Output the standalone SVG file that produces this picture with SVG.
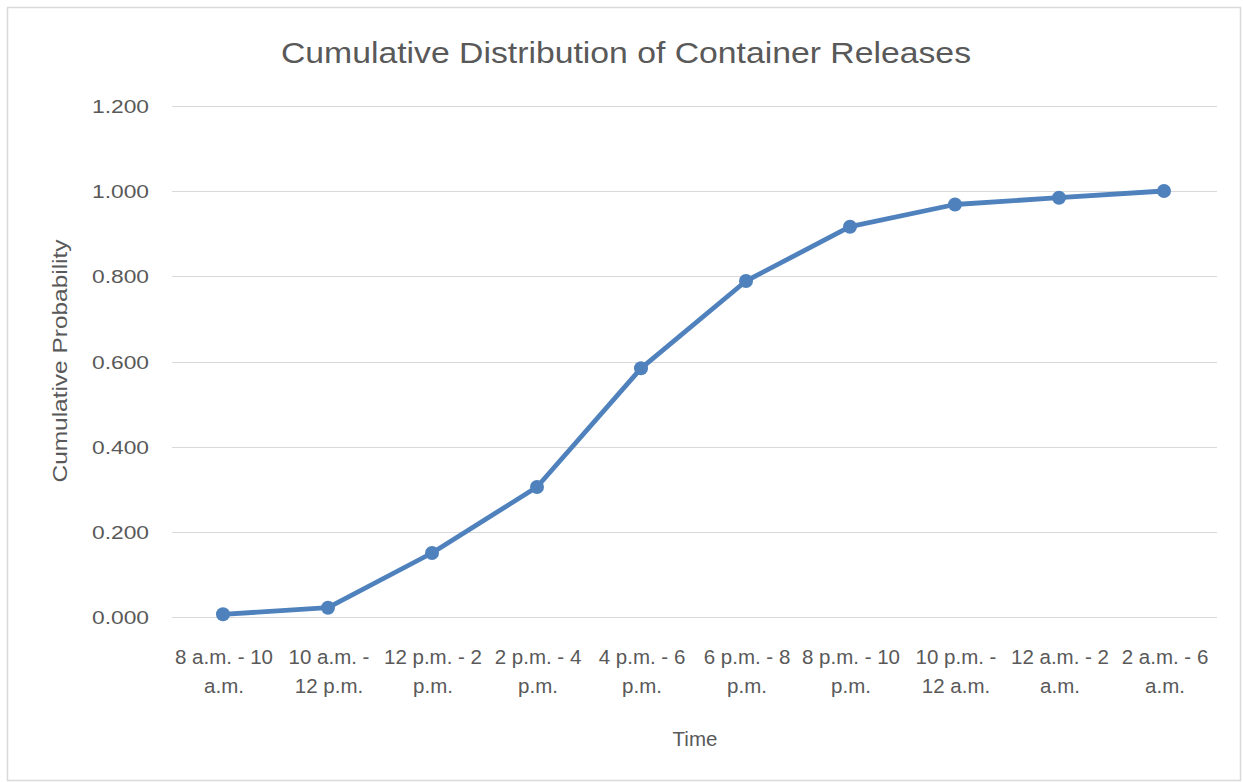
<svg xmlns="http://www.w3.org/2000/svg" width="1243" height="782" viewBox="0 0 1243 782">
<style>
text{font-family:"Liberation Sans",Arial,sans-serif;fill:#595959}
.tick{font-size:19px;text-anchor:end}
.cat{font-size:20.5px;text-anchor:middle}
.grid{stroke:#d9d9d9;stroke-width:1.2}
.series{fill:none;stroke:#4f81bd;stroke-width:4.8;stroke-linejoin:round;stroke-linecap:round}
.pt{fill:#4f81bd}
</style>
<rect x="0" y="0" width="1243" height="782" fill="#ffffff"/>
<rect x="7.5" y="7.5" width="1233" height="773" fill="#ffffff" stroke="#d9d9d9" stroke-width="1.5"/>
<g id="title"><text x="626" y="63" font-size="29" text-anchor="middle" textLength="690" lengthAdjust="spacingAndGlyphs">Cumulative Distribution of Container Releases</text></g>
<g id="gridlines">
<line class="grid" x1="172" y1="106.5" x2="1217" y2="106.5"/>
<line class="grid" x1="172" y1="191.5" x2="1217" y2="191.5"/>
<line class="grid" x1="172" y1="276.5" x2="1217" y2="276.5"/>
<line class="grid" x1="172" y1="362.5" x2="1217" y2="362.5"/>
<line class="grid" x1="172" y1="447.5" x2="1217" y2="447.5"/>
<line class="grid" x1="172" y1="532.5" x2="1217" y2="532.5"/>
<line class="grid" x1="172" y1="617.5" x2="1217" y2="617.5"/>
</g>
<g id="y-ticks">
<text class="tick" x="149" y="113" textLength="57" lengthAdjust="spacingAndGlyphs">1.200</text>
<text class="tick" x="149" y="198" textLength="57" lengthAdjust="spacingAndGlyphs">1.000</text>
<text class="tick" x="149" y="283" textLength="57" lengthAdjust="spacingAndGlyphs">0.800</text>
<text class="tick" x="149" y="369" textLength="57" lengthAdjust="spacingAndGlyphs">0.600</text>
<text class="tick" x="149" y="454" textLength="57" lengthAdjust="spacingAndGlyphs">0.400</text>
<text class="tick" x="149" y="539" textLength="57" lengthAdjust="spacingAndGlyphs">0.200</text>
<text class="tick" x="149" y="624" textLength="57" lengthAdjust="spacingAndGlyphs">0.000</text>
</g>
<g id="y-axis-title"><text x="0" y="0" font-size="20" text-anchor="middle" transform="translate(67,361) rotate(-90)" textLength="243" lengthAdjust="spacingAndGlyphs">Cumulative Probability</text></g>
<g id="x-labels">
<text class="cat" x="224" y="664">8 a.m. - 10</text><text class="cat" x="224" y="693">a.m.</text>
<text class="cat" x="329" y="664">10 a.m. -</text><text class="cat" x="329" y="693">12 p.m.</text>
<text class="cat" x="433" y="664">12 p.m. - 2</text><text class="cat" x="433" y="693">p.m.</text>
<text class="cat" x="538" y="664">2 p.m. - 4</text><text class="cat" x="538" y="693">p.m.</text>
<text class="cat" x="642" y="664">4 p.m. - 6</text><text class="cat" x="642" y="693">p.m.</text>
<text class="cat" x="747" y="664">6 p.m. - 8</text><text class="cat" x="747" y="693">p.m.</text>
<text class="cat" x="851" y="664">8 p.m. - 10</text><text class="cat" x="851" y="693">p.m.</text>
<text class="cat" x="956" y="664">10 p.m. -</text><text class="cat" x="956" y="693">12 a.m.</text>
<text class="cat" x="1060" y="664">12 a.m. - 2</text><text class="cat" x="1060" y="693">a.m.</text>
<text class="cat" x="1165" y="664">2 a.m. - 6</text><text class="cat" x="1165" y="693">a.m.</text>
</g>
<g id="x-axis-title"><text x="695" y="746" font-size="20.5" text-anchor="middle">Time</text></g>
<g id="connectors">
<polyline class="series" points="223,614.3 328,607.7 432,553 537,487 641,368.3 746,281 850,226.7 955,204.5 1059,197.7 1164,191"/>
</g>
<g id="points">
<circle class="pt" cx="223" cy="614.3" r="7"/>
<circle class="pt" cx="328" cy="607.7" r="7"/>
<circle class="pt" cx="432" cy="553" r="7"/>
<circle class="pt" cx="537" cy="487" r="7"/>
<circle class="pt" cx="641" cy="368.3" r="7"/>
<circle class="pt" cx="746" cy="281" r="7"/>
<circle class="pt" cx="850" cy="226.7" r="7"/>
<circle class="pt" cx="955" cy="204.5" r="7"/>
<circle class="pt" cx="1059" cy="197.7" r="7"/>
<circle class="pt" cx="1164" cy="191" r="7"/>
</g>
</svg>
